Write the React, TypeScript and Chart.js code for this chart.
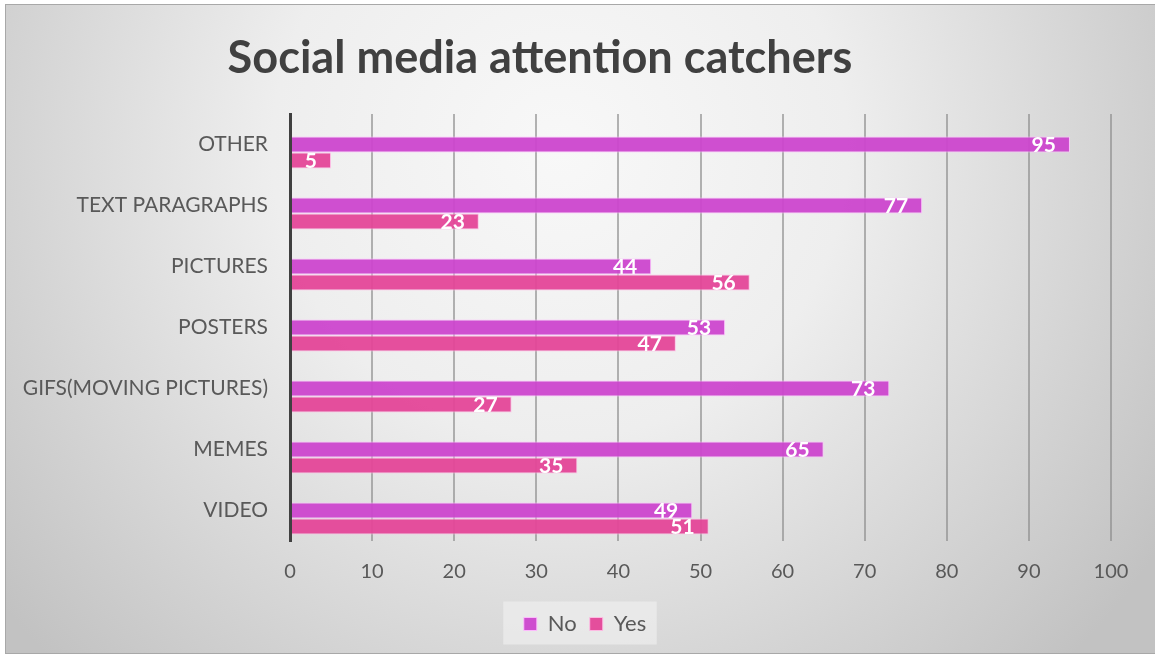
import React, { useEffect, useRef } from "react";
import { Chart, registerables } from "chart.js";

Chart.register(...registerables);

const TITLE = "Social media attention catchers";
const categories = [
  "OTHER",
  "TEXT PARAGRAPHS",
  "PICTURES",
  "POSTERS",
  "GIFS(MOVING PICTURES)",
  "MEMES",
  "VIDEO",
];
const noValues = [95, 77, 44, 53, 73, 65, 49];
const yesValues = [5, 23, 56, 47, 27, 35, 51];
const spacerValues = categories.map(() => null);
const xMin = 0;
const xMax = 100;
const xStep = 10;

const FONT = "Lato, 'Open Sans', sans-serif";
const NO_COLOR = "rgba(204, 70, 206, 0.95)";
const YES_COLOR = "rgba(228, 70, 152, 0.95)";
const LEGEND_SHIFT = 27;

const legendShiftPlugin = {
  id: "legendShift",
  afterUpdate(chart: any) {
    const lg = chart.legend;
    if (!lg) return;
    lg.left += LEGEND_SHIFT;
    lg.right += LEGEND_SHIFT;
    if (typeof lg.adjustHitBoxes === "function") lg.adjustHitBoxes();
  },
};

const backgroundPlugin = {
  id: "bg",
  beforeDraw(chart: any) {
    const { ctx, width } = chart;
    ctx.save();
    ctx.fillStyle = "#ffffff";
    ctx.fillRect(0, 0, width, chart.height);
    const g = ctx.createRadialGradient(560, 150, 0, 560, 150, 720);
    g.addColorStop(0, "#f8f8f8");
    g.addColorStop(0.4, "#eeeeee");
    g.addColorStop(1, "#c2c2c2");
    ctx.fillStyle = g;
    ctx.fillRect(5, 4, width - 5, 650);
    ctx.strokeStyle = "#a8a8a8";
    ctx.lineWidth = 1;
    ctx.strokeRect(5.5, 4.5, width, 649);
    const lg = chart.legend;
    if (lg && lg.lineWidths && lg.lineWidths.length) {
      const rowW = lg.lineWidths[0];
      const cx = (lg.left + lg.right) / 2;
      const cy = (lg.top + lg.bottom) / 2;
      const l = cx - rowW / 2 - 14;
      const r = cx + rowW / 2 + 4;
      ctx.fillStyle = "rgba(242,242,242,0.6)";
      ctx.fillRect(l, cy - 21, r - l, 43);
    }
    ctx.restore();
  },
};

const titlePlugin = {
  id: "customTitle",
  afterDraw(chart: any) {
    const { ctx } = chart;
    ctx.save();
    let size = 44;
    ctx.font = `bold ${size}px ${FONT}`;
    const w = ctx.measureText(TITLE).width;
    size = (size * 625) / w;
    ctx.font = `bold ${size}px ${FONT}`;
    ctx.fillStyle = "#404040";
    ctx.textAlign = "center";
    ctx.textBaseline = "alphabetic";
    ctx.fillText(TITLE, 540, 73);
    ctx.restore();
  },
};

const dataLabelPlugin = {
  id: "dataLabels",
  afterDatasetsDraw(chart: any) {
    const { ctx } = chart;
    ctx.save();
    ctx.font = `bold 21px ${FONT}`;
    ctx.fillStyle = "#ffffff";
    ctx.textAlign = "right";
    ctx.textBaseline = "middle";
    chart.data.datasets.forEach((ds: any, di: number) => {
      if (ds.isSpacer) return;
      const meta = chart.getDatasetMeta(di);
      meta.data.forEach((el: any, i: number) => {
        const v = ds.data[i];
        if (v == null) return;
        ctx.fillText(String(v), el.x - 14, el.y + 1);
      });
    });
    ctx.restore();
  },
};

export default function App() {
  const ref = useRef<HTMLCanvasElement>(null);
  useEffect(() => {
    if (!ref.current) return;
    const chart = new Chart(ref.current, {
      type: "bar",
      data: {
        labels: categories,
        datasets: [
          {
            label: "",
            data: spacerValues as any,
            backgroundColor: "transparent",
            isSpacer: true,
          } as any,
          {
            label: "No",
            data: noValues,
            backgroundColor: NO_COLOR,
            borderColor: "rgba(255, 190, 255, 0.9)",
            borderWidth: 1,
          },
          {
            label: "Yes",
            data: yesValues,
            backgroundColor: YES_COLOR,
            borderColor: "rgba(255, 190, 230, 0.9)",
            borderWidth: 1,
          },
        ],
      },
      plugins: [legendShiftPlugin, backgroundPlugin, titlePlugin, dataLabelPlugin],
      options: {
        responsive: false,
        animation: false,
        indexAxis: "y",
        datasets: {
          bar: { categoryPercentage: 0.787, barPercentage: 1 },
        } as any,
        layout: { padding: { top: 114, left: 5, right: 44, bottom: 14 } },
        plugins: {
          title: { display: false },
          tooltip: { enabled: false },
          legend: {
            display: true,
            position: "bottom",
            labels: {
              filter: (item: any) => item.text !== "",
              font: { family: FONT, size: 22 },
              color: "#595959",
              boxWidth: 13,
              boxHeight: 13,
              padding: 13,
            },
          },
        },
        scales: {
          x: {
            min: xMin,
            max: xMax,
            ticks: {
              stepSize: xStep,
              font: { family: FONT, size: 20 },
              color: "#595959",
              padding: 19,
            },
            grid: {
              color: "rgba(140,140,140,0.65)",
              lineWidth: 2,
              drawTicks: false,
            },
            border: { display: false },
            afterFit(scale: any) {
              scale.height = 59;
            },
          },
          y: {
            ticks: {
              font: { family: FONT, size: 21 },
              color: "#595959",
              padding: 22,
            },
            grid: { display: false, drawTicks: false },
            border: { display: true, color: "#404040", width: 3, z: 2 },
            afterFit(scale: any) {
              scale.width = 285;
            },
          },
        },
      } as any,
    });
    return () => chart.destroy();
  }, []);
  return (
    <canvas
      ref={ref}
      width={1155}
      height={659}
      style={{ position: "absolute", left: 0, top: 0, display: "block" }}
    />
  );
}
